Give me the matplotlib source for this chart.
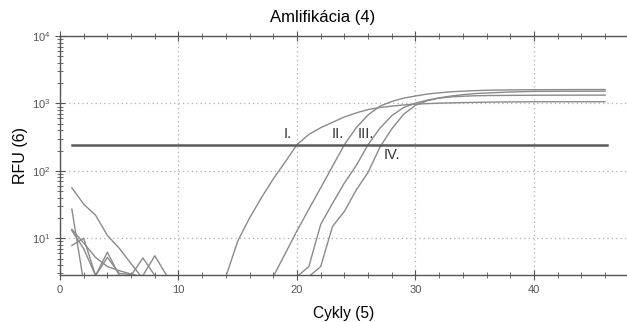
import matplotlib
matplotlib.use("Agg")
import matplotlib.pyplot as plt
from matplotlib.ticker import MultipleLocator, LogLocator, NullFormatter

plt.rcParams["font.family"] = ["Liberation Sans", "DejaVu Sans"]

# amplification curves (cycle, RFU)
cyc_1 = [14, 15, 16, 17, 18, 19, 20, 21, 22, 23, 24, 25, 26, 27, 28, 29, 30, 31, 32, 34, 36, 38, 40, 46]
rfu_1 = [2.7, 9.1, 20, 40, 76, 135, 245, 347, 437, 525, 631, 724, 813, 871, 912, 950, 977, 995, 1010, 1030, 1045, 1055, 1060, 1060]

cyc_2 = [18, 19, 20, 21, 22, 23, 24, 25, 26, 27, 28, 29, 30, 31, 32, 33, 34, 35, 36, 38, 40, 46]
rfu_2 = [2.7, 5.9, 12.9, 27, 56, 117, 245, 437, 676, 912, 1070, 1200, 1290, 1380, 1440, 1490, 1520, 1550, 1570, 1590, 1600, 1610]

cyc_3 = [20, 21, 22, 23, 24, 25, 26, 27, 28, 29, 30, 31, 32, 33, 34, 35, 36, 38, 40, 46]
rfu_3 = [2.7, 3.8, 16, 33, 66, 120, 245, 430, 660, 870, 1010, 1120, 1210, 1290, 1350, 1400, 1430, 1480, 1510, 1525]

cyc_4 = [21, 22, 23, 24, 25, 26, 27, 28, 29, 30, 31, 32, 33, 34, 35, 36, 40, 46]
rfu_4 = [2.7, 3.8, 15, 25, 52, 95, 225, 420, 690, 940, 1100, 1200, 1250, 1280, 1300, 1310, 1325, 1330]

# background noise at the start
noise_cyc = [1, 2, 3, 4, 5, 6, 7, 8, 9]
noise = [
    [56, 32, 22, 11, 7.1, 4.2, 2.5, 2.5, 2.5],
    [27, 2.2, 2.2, 2.2, 2.2, 2.2, 2.2, 2.2, 2.2],
    [13.5, 8.5, 5.2, 3.8, 3.3, 2.95, 2.6, 2.6, 2.6],
    [7.8, 10, 2.8, 6.2, 2.8, 2.7, 2.7, 2.7, 2.7],
    [13, 7, 2.8, 5.2, 3.0, 2.9, 2.7, 2.7, 2.7],
    [2.7, 2.7, 2.7, 2.7, 2.7, 2.8, 5.1, 2.8, 2.7],
    [2.7, 2.7, 2.7, 2.7, 2.7, 2.7, 2.8, 5.5, 2.8],
]

threshold = 245
thr_cyc = [1, 46.2]

labels = ["I.", "II.", "III.", "IV."]
label_x = [19.2, 23.4, 25.8, 28.0]
label_y = [350, 350, 350, 170]

fig = plt.figure(figsize=(6.27, 3.22), dpi=100)
ax = fig.add_axes([0.0957, 0.146, 0.9043, 0.742])

line_col = "#8a8a8a"
for c, r in [(cyc_1, rfu_1), (cyc_2, rfu_2), (cyc_3, rfu_3), (cyc_4, rfu_4)]:
    ax.plot(c, r, color=line_col, lw=1.0)
for n in noise:
    ax.plot(noise_cyc, n, color=line_col, lw=1.0)

ax.plot(thr_cyc, [threshold, threshold], color="#5a5a5a", lw=1.8)

for t, x, y in zip(labels, label_x, label_y):
    ax.text(x, y, t, ha="center", va="center", fontsize=10.5, color="#333333")

ax.set_yscale("log")
ax.set_xlim(0, 47.85)
ax.set_ylim(2.85, 1e4)

ax.xaxis.set_major_locator(MultipleLocator(10))
ax.xaxis.set_minor_locator(MultipleLocator(2))
ax.yaxis.set_major_locator(LogLocator(base=10))
ax.yaxis.set_minor_locator(LogLocator(base=10, subs=range(2, 10)))
ax.yaxis.set_minor_formatter(NullFormatter())

ax.grid(True, which="major", color="#b0b0b0", linestyle=(0, (1, 2.5)), lw=0.9)

ax.spines["right"].set_visible(False)
for s in ["left", "bottom", "top"]:
    ax.spines[s].set_color("#555555")
    ax.spines[s].set_linewidth(1.0)

ax.tick_params(which="both", direction="inout", colors="#555555", top=True,
               labelsize=8, labelcolor="#555555")
ax.tick_params(which="major", length=7)
ax.tick_params(which="minor", length=4)

fig.text(0.515, 0.947, "Amlifikácia (4)", ha="center", va="center", fontsize=12)
ax.set_xlabel("Cykly (5)", fontsize=11.2, labelpad=8)
ax.set_ylabel("RFU (6)", fontsize=11.5, labelpad=3)

fig.savefig("out.png", dpi=100)
